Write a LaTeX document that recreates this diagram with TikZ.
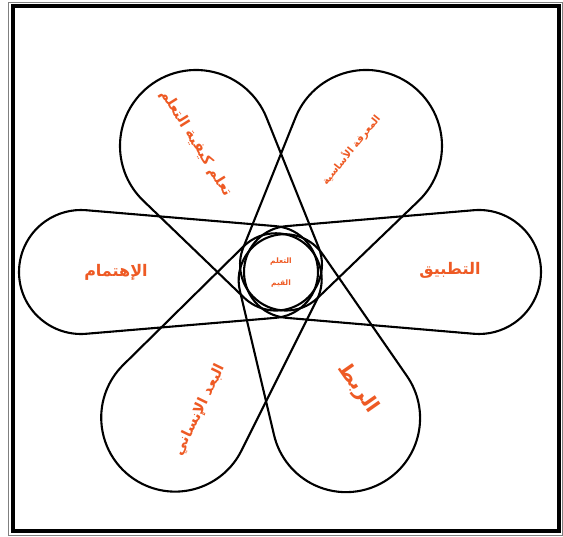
\documentclass[tikz,border=0pt]{standalone}
\usepackage{fontspec}
\newfontfamily\arabicfont[Script=Arabic]{DejaVu Sans}
\TeXXeTstate=1
\definecolor{petaltext}{HTML}{EE5A24}
\tikzset{
  petalline/.style={line width=2.1pt, black, line join=round},
  petallabel/.style={text=petaltext, font=\arabicfont\bfseries\fontsize{14.5}{16}\selectfont, inner sep=1pt},
  centerlabel/.style={text=petaltext, font=\arabicfont\bfseries\fontsize{7.5}{9}\selectfont, inner sep=1pt}
}
% #1 axis angle, #2 distance of round end, #3 radius of round end
\newcommand\petalbelt[3]{%
  \begin{scope}[shift={(281,265)}, rotate=#1]
    \pgfmathsetmacro\tang{acos((46-#3)/(#2-9))}
    \draw[petalline] ([shift={(9,0)}]\tang:46) -- ([shift={(#2,0)}]\tang:#3)
      arc[start angle=\tang, end angle=-\tang, radius=#3]
      -- ([shift={(9,0)}]-\tang:46)
      arc[start angle=-\tang, end angle=\tang-360, radius=46] -- cycle;
  \end{scope}}
\begin{document}
\begin{tikzpicture}[x=1pt,y=1pt]
  \useasboundingbox (0,0) rectangle (563,537);
  \fill[white] (0,0) rectangle (563,537);
  % frame
  \draw[gray, line width=0.8pt] (8,2) rectangle (562,535);
  \draw[black, line width=4pt] (13,6) rectangle (559,531);
  % petals
  \petalbelt{0}{198}{62}
  \petalbelt{180}{200}{62}
  \petalbelt{56}{152}{76}
  \petalbelt{124}{152}{76}
  \petalbelt{-126}{180}{74}
  \petalbelt{-66}{160}{74}
  % labels
  \node[petallabel, font=\arabicfont\bfseries\fontsize{16}{18}\selectfont] (care) at (116,265) {\beginR الإهتمام\endR};
  \node[petallabel, font=\arabicfont\bfseries\fontsize{16}{18}\selectfont] (apply) at (450,267) {\beginR التطبيق\endR};
  \node[petallabel, rotate=-58] (learn) at (196,394) {\beginR تعلم كيفية التعلم\endR};
  \node[petallabel, rotate=51, font=\arabicfont\bfseries\fontsize{10}{12}\selectfont] (know) at (351,387) {\beginR المعرفة الأساسية\endR};
  \node[petallabel, rotate=64] (human) at (200,127) {\beginR البعد الإنساني\endR};
  \node[petallabel, rotate=-55, font=\arabicfont\bfseries\fontsize{20}{22}\selectfont] (integ) at (358,149) {\beginR الربط\endR};
  \node[centerlabel] (sig1) at (281,275) {\beginR التعلم\endR};
  \node[centerlabel] (sig2) at (281,253) {\beginR القيم\endR};
\end{tikzpicture}
\end{document}
